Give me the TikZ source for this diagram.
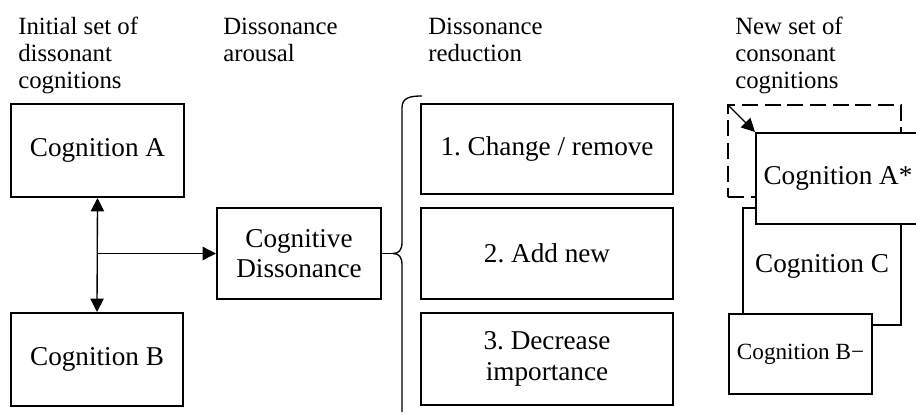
\documentclass[tikz,border=0pt]{standalone}
\usepackage{fontspec}
\setmainfont{Liberation Serif}
\usetikzlibrary{arrows.meta}
\frenchspacing

\tikzset{
  box/.style={draw, line width=1.5pt, fill=white, inner sep=0pt, align=center,
              font=\fontsize{20.4}{23}\selectfont},
  head/.style={anchor=north west, inner sep=0pt, align=left,
               font=\fontsize{18.6}{20.25}\selectfont},
  conn/.style={line width=1pt, -{Triangle[length=10pt,width=10pt]}},
  bothconn/.style={line width=1pt, {Triangle[length=10pt,width=10pt]}-{Triangle[length=10pt,width=10pt]}},
  bracket/.style={line width=1pt},
  ghost/.style={draw, dashed, dash pattern=on 12pt off 5pt, line width=1.1pt, inner sep=0pt}
}

\begin{document}
\begin{tikzpicture}[x=0.75pt, y=-0.75pt]
  \useasboundingbox (0,0) rectangle (916,414);

  % column headings
  \node[head] (h1) at (18,17) {Initial set of\\dissonant\\cognitions};
  \node[head] (h2) at (223,18) {Dissonance\\arousal};
  \node[head] (h3) at (428,18) {Dissonance\\reduction};
  \node[head] (h4) at (735,17) {New set of\\consonant\\cognitions};

  % initial cognitions and arousal
  \node[box, minimum width=129.75pt, minimum height=69.75pt] (a)  at (97.5,150.5) {Cognition A};
  \node[box, minimum width=129pt,    minimum height=69.75pt] (b)  at (97,359.5)   {Cognition B};
  \node[box, minimum width=123pt,    minimum height=68.25pt] (cd) at (299,253.5)   {Cognitive\\Dissonance};

  \draw[bothconn] (a.south) -- (b.north);
  \draw[conn] (a.south |- cd.west) -- (cd.west);

  % reduction strategies
  \node[box, minimum width=189pt, minimum height=67.5pt]  (r1) at (547,149)   {1. Change / remove};
  \node[box, minimum width=189pt, minimum height=68.25pt] (r2) at (547,253.5) {2. Add new};
  \node[box, minimum width=189pt, minimum height=69pt]    (r3) at (547,359)   {3. Decrease\\importance};

  % brace gathering the strategies
  \coordinate (tip) at (393,253.5);
  \draw[bracket] (422,96) .. controls (409,96) and (402,98) .. (402,108) -- (402,242)
                 .. controls (402,250) and (399,253.5) .. (tip);
  \draw[bracket] (tip) .. controls (399,253.5) and (402,257) .. (402,265) -- (402,412);
  \draw[bracket] (cd.east) -- (tip);

  % new consonant set
  \node[ghost, minimum width=129.75pt, minimum height=69pt] (old) at (814.5,151) {};
  \node[box, minimum width=118.5pt,  minimum height=87.75pt] (c)  at (822,266.5) {Cognition C};
  \node[box, minimum width=107.25pt, minimum height=60pt, font=\fontsize{17.4}{19}\selectfont]
       (bm) at (800.5,354) {Cognition B−};
  \node[box, minimum width=123pt, minimum height=68.25pt] (as) at (838,178.5) {Cognition A*};
  \draw[conn] (old.north west) -- (as.north west);
\end{tikzpicture}
\end{document}
